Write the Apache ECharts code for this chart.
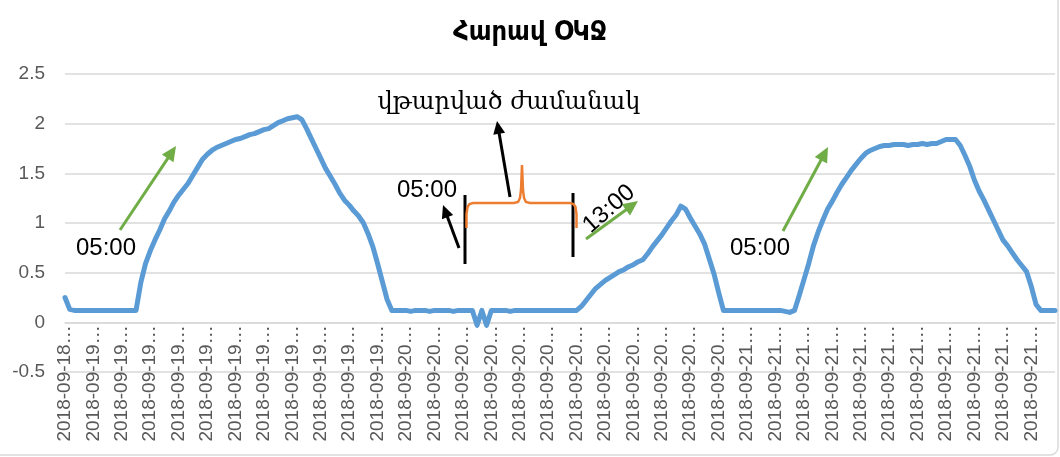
<!DOCTYPE html>
<html>
<head>
<meta charset="utf-8">
<script src="https://cdn.jsdelivr.net/npm/echarts@6/dist/echarts.min.js"></script>
<style>
html,body{margin:0;padding:0;background:#ffffff;}
#chart{width:1060px;height:457px;}
</style>
</head>
<body>
<div id="chart"></div>
<script>
// ---------- data ----------
const chartTitle = 'Հարավ ՕԿՋ';
const seriesName = 'Հարավ ՕԿՋ';
const startStamp = [2018, 9, 18, 23, 28];   // first reading: 2018-09-18 23:28
const stepMinutes = 21;                      // spacing between readings
const labelEvery = 6;                        // one tick label every 6 readings

const values = [
  // 2018-09-18 night / 2018-09-19
  0.25, 0.13, 0.12, 0.12, 0.12, 0.12, 0.12, 0.12, 0.12, 0.12,
  0.12, 0.12, 0.12, 0.12, 0.12, 0.12, 0.40, 0.59, 0.72, 0.83,
  0.93, 1.04, 1.12, 1.21, 1.28, 1.34, 1.40, 1.48, 1.56, 1.64,
  1.69, 1.73, 1.76, 1.78, 1.80, 1.82, 1.84, 1.85, 1.87, 1.89,
  1.90, 1.92, 1.94, 1.95, 1.98, 2.01, 2.03, 2.05, 2.06, 2.07,
  2.04, 1.95, 1.85, 1.75, 1.65, 1.55, 1.47, 1.39, 1.30, 1.23,
  1.18, 1.12, 1.07, 1.00, 0.89, 0.76, 0.59, 0.41, 0.23, 0.12,
  // 2018-09-20
  0.12, 0.12, 0.12, 0.11, 0.12, 0.12, 0.12, 0.11, 0.12, 0.12,
  0.12, 0.12, 0.11, 0.12, 0.12, 0.12, 0.12, -0.03, 0.12, -0.03,
  0.12, 0.12, 0.12, 0.12, 0.11, 0.12, 0.12, 0.12, 0.12, 0.12,
  0.12, 0.12, 0.12, 0.12, 0.12, 0.12, 0.12, 0.12, 0.12, 0.16,
  0.22, 0.28, 0.34, 0.38, 0.42, 0.45, 0.48, 0.51, 0.53, 0.56,
  0.58, 0.61, 0.63, 0.69, 0.76, 0.82, 0.88, 0.95, 1.02, 1.08,
  1.17, 1.14, 1.05, 0.97, 0.89, 0.79, 0.64, 0.49, 0.30, 0.12,
  // 2018-09-21
  0.12, 0.12, 0.12, 0.12, 0.12, 0.12, 0.12, 0.12, 0.12, 0.12,
  0.12, 0.12, 0.11, 0.10, 0.12, 0.27, 0.43, 0.59, 0.77, 0.91,
  1.03, 1.14, 1.22, 1.31, 1.39, 1.46, 1.53, 1.59, 1.65, 1.70,
  1.73, 1.75, 1.77, 1.78, 1.78, 1.79, 1.79, 1.79, 1.78, 1.79,
  1.79, 1.80, 1.79, 1.80, 1.80, 1.82, 1.84, 1.84, 1.84, 1.78,
  1.68, 1.57, 1.43, 1.32, 1.23, 1.13, 1.03, 0.93, 0.83, 0.77,
  0.70, 0.63, 0.57, 0.51, 0.36, 0.18, 0.12, 0.12, 0.12, 0.12
];

const yMin = -0.5, yMax = 2.5, yInterval = 0.5;

const annotationTimes = ['05:00', '05:00', '13:00', '05:00'];
const outageText = 'վթարված ժամանակ';

// ---------- categories (timestamps of the readings) ----------
function pad(n) { return (n < 10 ? '0' : '') + n; }
const categories = [];
{
  const t0 = new Date(startStamp[0], startStamp[1] - 1, startStamp[2], startStamp[3], startStamp[4]);
  for (let i = 0; i < values.length; i++) {
    const d = new Date(t0.getTime() + i * stepMinutes * 60000);
    categories.push(d.getFullYear() + '-' + pad(d.getMonth() + 1) + '-' + pad(d.getDate()) + ' ' +
      pad(d.getHours()) + ':' + pad(d.getMinutes()));
  }
}

// ---------- layout ----------
const W = 1060, H = 457;
const gridTop = 74, gridBottom = 85, gridLeft = 65, gridRight = 5;
const gridHeight = H - gridTop - gridBottom;
// the category axis (with its labels) crosses the value axis at 0, as in the original
const zeroOffset = -gridHeight * (0 - yMin) / (yMax - yMin);

// ---------- annotation helpers ----------
const GREEN = '#70ad47', BLACK = '#000000', ORANGE = '#ed7d31';
function arrow(x1, y1, x2, y2, color, w, headLen, headHalf) {
  const dx = x2 - x1, dy = y2 - y1, L = Math.sqrt(dx * dx + dy * dy);
  const ux = dx / L, uy = dy / L, px = -uy, py = ux;
  const bx = x2 - ux * headLen, by = y2 - uy * headLen;
  return [
    { type: 'line', silent: true, z: 100,
      shape: { x1: x1, y1: y1, x2: bx + ux * 2, y2: by + uy * 2 },
      style: { stroke: color, lineWidth: w } },
    { type: 'polygon', silent: true, z: 100,
      shape: { points: [[x2, y2], [bx + px * headHalf, by + py * headHalf], [bx - px * headHalf, by - py * headHalf]] },
      style: { fill: color } }
  ];
}
function label(text, x, y, size, rot) {
  return { type: 'text', silent: true, z: 100, x: x, y: y, rotation: rot || 0,
    style: { text: text, fill: '#000', fontSize: size, fontFamily: 'Liberation Sans, Arial, sans-serif',
      textAlign: 'center', textVerticalAlign: 'middle' } };
}

const graphics = [].concat(
  // chart area border
  [{ type: 'rect', silent: true, z: 0,
     shape: { x: -10, y: -12, width: 1068, height: 467, r: 8 },
     style: { fill: 'none', stroke: '#d9d9d9', lineWidth: 1.5 } }],
  // left 05:00
  arrow(120, 230, 176, 146, GREEN, 3, 15, 7),
  [label(annotationTimes[0], 106, 248, 24)],
  // outage markers
  [{ type: 'line', silent: true, z: 100, shape: { x1: 465, y1: 195, x2: 465, y2: 264 }, style: { stroke: BLACK, lineWidth: 3 } },
   { type: 'line', silent: true, z: 100, shape: { x1: 573, y1: 193, x2: 573, y2: 257 }, style: { stroke: BLACK, lineWidth: 3 } },
   { type: 'polyline', silent: true, z: 100,
     shape: { points: [[466.5, 228], [466.5, 214], [467.5, 207], [469.5, 204], [473, 203], [514, 203], [518, 202],
                       [520, 198], [521, 190], [522, 165], [523, 190], [524, 198], [526, 202], [530, 203],
                       [570, 203], [573.5, 204], [575.5, 207], [576.5, 214], [576.5, 228]] },
     style: { stroke: ORANGE, lineWidth: 2.5, fill: null } }],
  arrow(459, 248, 443, 205, BLACK, 3, 13, 6),
  [label(annotationTimes[1], 427, 190, 24)],
  arrow(510, 197, 497, 121, BLACK, 3, 13, 6),
  [{ type: 'text', silent: true, z: 100, x: 509, y: 103,
     style: { text: outageText, fill: '#000', fontSize: 24, fontFamily: 'DejaVu Serif, serif',
       textAlign: 'center', textVerticalAlign: 'middle' } }],
  // 13:00
  arrow(586, 239, 638, 201, GREEN, 3, 15, 7),
  [label(annotationTimes[2], 609, 209, 24, 0.72)],
  // right 05:00
  arrow(783, 231, 828, 147, GREEN, 3, 15, 7),
  [label(annotationTimes[3], 760, 248, 24)]
);

// ---------- chart ----------
const chart = echarts.init(document.getElementById('chart'), null, { renderer: 'canvas' });
chart.setOption({
  backgroundColor: '#ffffff',
  animation: false,
  title: {
    text: chartTitle, left: 'center', top: 14,
    textStyle: { fontSize: 27, fontWeight: 'bold', color: '#000', fontFamily: 'DejaVu Sans Condensed, DejaVu Sans, sans-serif' }
  },
  grid: { left: gridLeft, right: gridRight, top: gridTop, bottom: gridBottom, containLabel: false, outerBoundsMode: 'none' },
  xAxis: {
    type: 'category',
    data: categories,
    boundaryGap: false,
    position: 'bottom',
    offset: zeroOffset,
    axisLine: { onZero: false, lineStyle: { color: '#d9d9d9', width: 1.5 } },
    axisTick: { show: false },
    axisLabel: {
      interval: labelEvery - 1,
      rotate: 90,
      margin: 3,
      color: '#595959',
      fontSize: 19,
      fontFamily: 'Liberation Sans, Arial, sans-serif',
      formatter: function (v) { return v.slice(0, 10) + '…'; }
    },
    splitLine: { show: false }
  },
  yAxis: {
    type: 'value',
    min: yMin, max: yMax, interval: yInterval,
    axisLine: { show: false },
    axisTick: { show: false },
    axisLabel: { color: '#595959', fontSize: 19, margin: 20, fontFamily: 'Liberation Sans, Arial, sans-serif' },
    splitLine: { lineStyle: { color: '#d9d9d9', width: 1.5 } }
  },
  series: [{
    name: seriesName,
    type: 'line',
    data: values,
    showSymbol: false,
    symbol: 'none',
    smooth: false,
    lineStyle: { color: '#5b9bd5', width: 5, cap: 'round', join: 'round' },
    z: 5
  }],
  graphic: graphics
});
</script>
</body>
</html>
